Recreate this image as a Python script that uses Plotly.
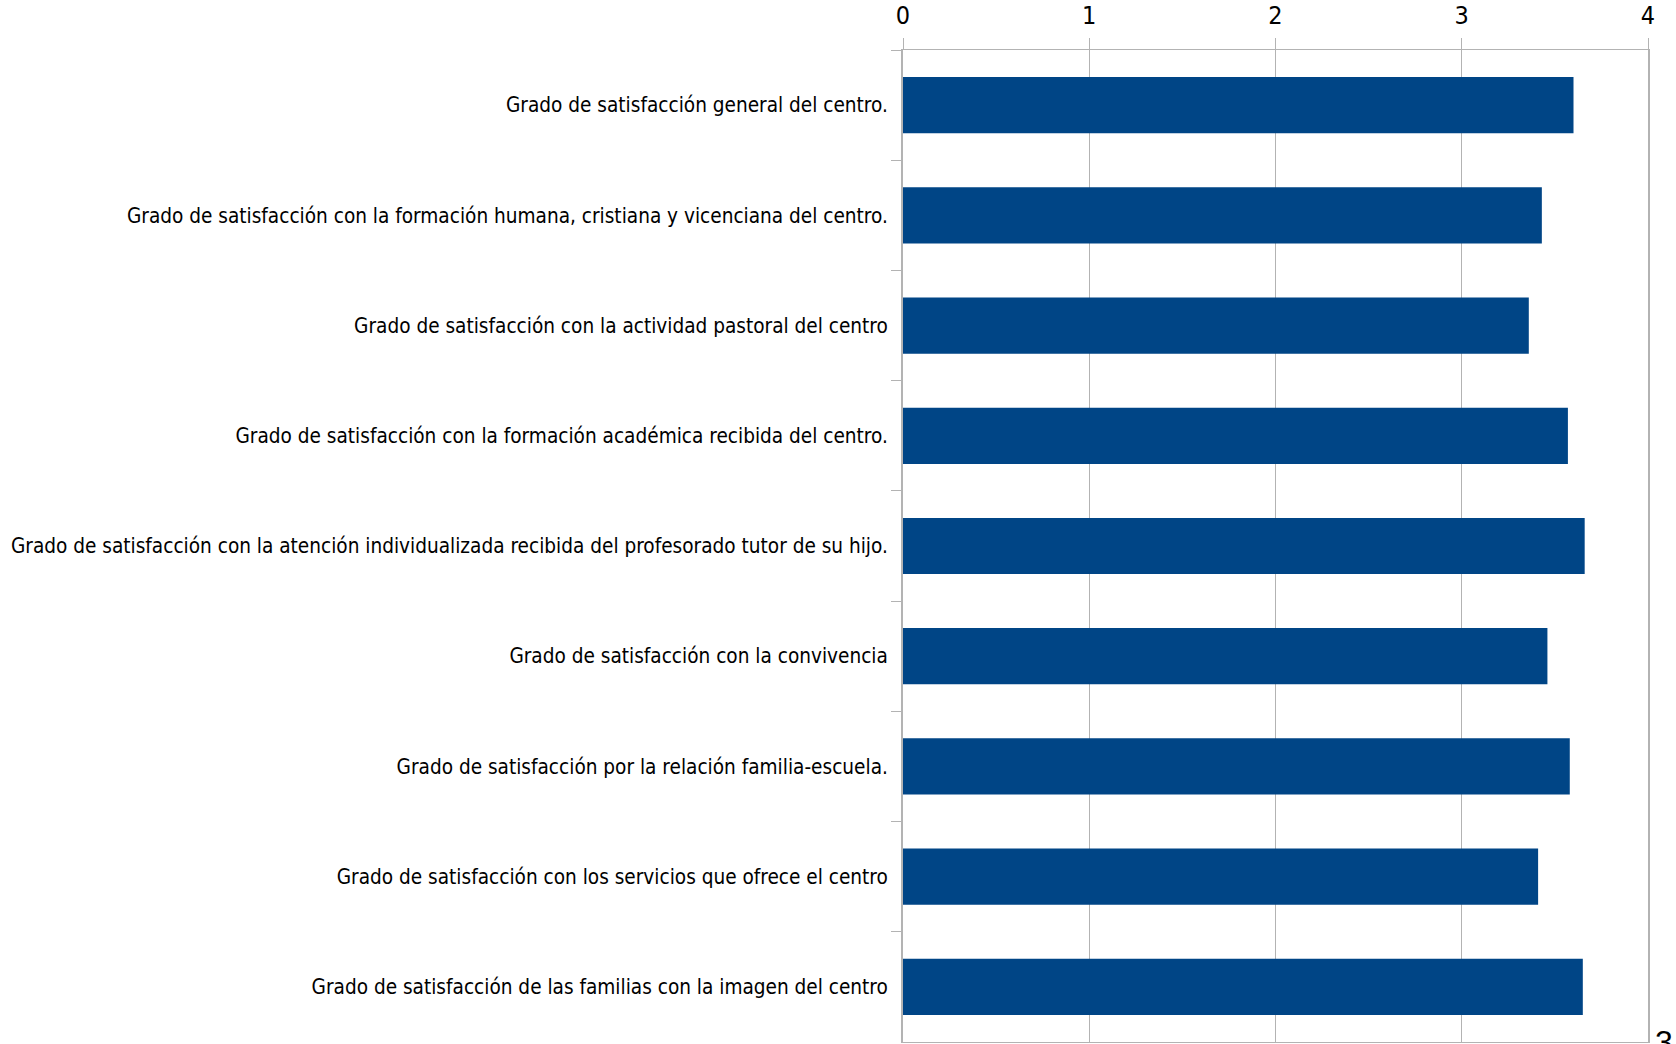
import plotly.graph_objects as go

categories = [
    "Grado de satisfacción general del centro.",
    "Grado de satisfacción con la formación humana, cristiana y vicenciana del centro.",
    "Grado de satisfacción con la actividad pastoral del centro",
    "Grado de satisfacción con la formación académica recibida del centro.",
    "Grado de satisfacción con la atención individualizada recibida del profesorado tutor de su hijo.",
    "Grado de satisfacción con la convivencia",
    "Grado de satisfacción por la relación familia-escuela.",
    "Grado de satisfacción con los servicios que ofrece el centro",
    "Grado de satisfacción de las familias con la imagen del centro",
]
values = [3.60, 3.43, 3.36, 3.57, 3.66, 3.46, 3.58, 3.41, 3.65]
x_ticks = [0, 1, 2, 3, 4]

FONT = "Liberation Sans Narrow, DejaVu Sans Condensed, sans-serif"
GRID = "#b3b3b3"

fig = go.Figure(go.Bar(
    y=categories, x=values, orientation="h",
    marker=dict(color="#004586", line=dict(width=0)),
))

fig.update_layout(
    width=1676, height=1044, autosize=False,
    margin=dict(l=903, r=28, t=50, b=2, pad=0),
    paper_bgcolor="white", plot_bgcolor="white",
    showlegend=False, bargap=0.49,
    font=dict(family=FONT, size=20.6, color="#000000"),
)
fig.update_xaxes(
    side="top", range=[0, 4], tickvals=x_ticks, ticktext=[str(t) for t in x_ticks],
    showgrid=True, gridcolor=GRID, gridwidth=1,
    ticks="outside", ticklen=11, tickcolor=GRID, tickwidth=1,
    showline=True, linecolor=GRID, linewidth=1, mirror=True,
    zeroline=False, automargin=False, ticklabelstandoff=4,
    tickfont=dict(size=25, family=FONT),
)
fig.update_yaxes(
    autorange="reversed", tickson="boundaries",
    ticks="outside", ticklen=10, tickcolor=GRID, tickwidth=1,
    showline=True, linecolor=GRID, linewidth=2, mirror=True,
    showgrid=False, automargin=False, ticklabelstandoff=9,
    tickfont=dict(size=20.6, family=FONT),
)
fig.add_annotation(
    text="3", xref="paper", yref="paper", x=1.007, y=0.020,
    xanchor="left", yanchor="top", showarrow=False,
    font=dict(size=32, family="Liberation Sans, Arial, sans-serif", color="#000000"),
)

fig.write_html(
    "out.html",
    config={"displayModeBar": False},
    post_script="document.body.style.margin='0';document.body.style.overflow='hidden';",
)
